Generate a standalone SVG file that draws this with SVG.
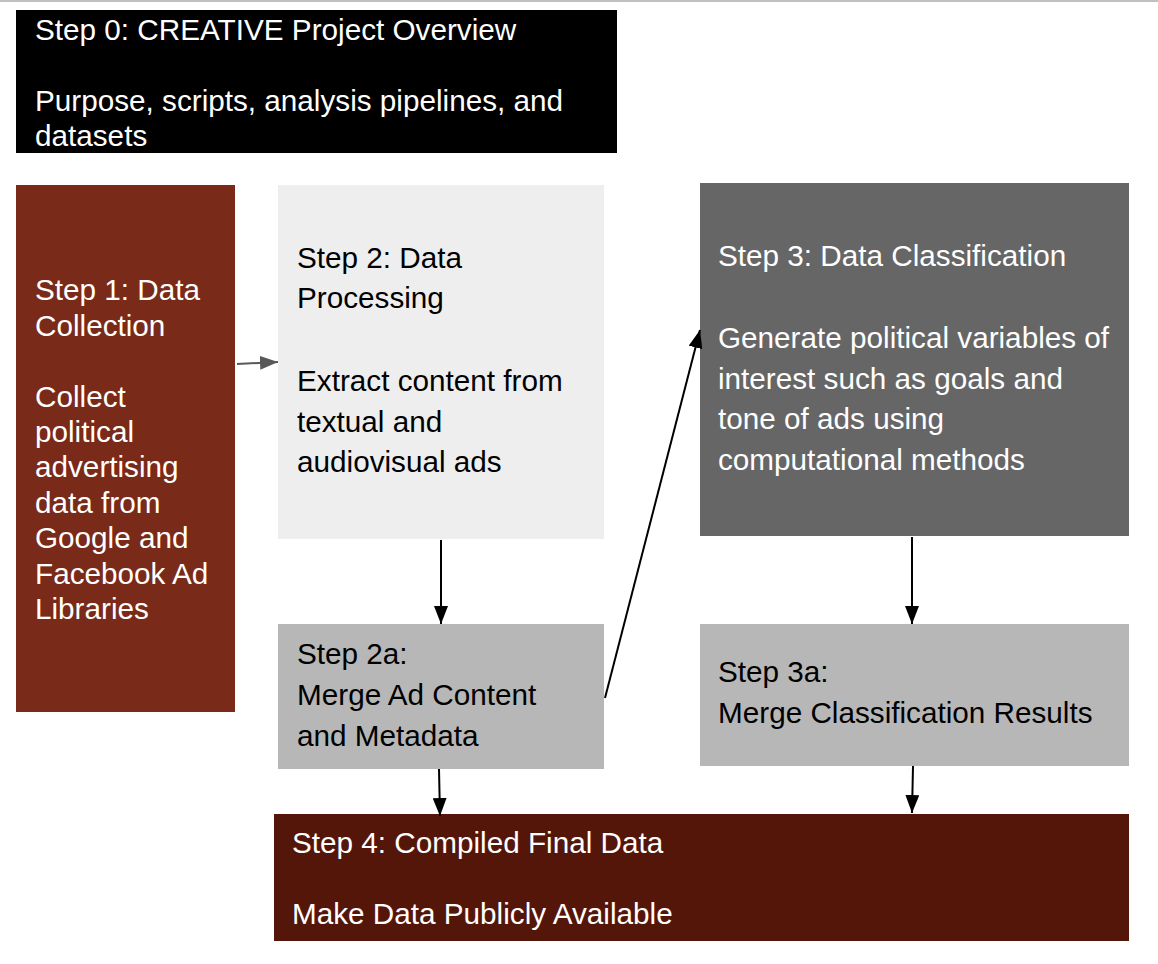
<svg xmlns="http://www.w3.org/2000/svg" width="1158" height="964" viewBox="0 0 1158 964">
<defs>
<style>
text{font-family:"Liberation Sans",Arial,sans-serif;font-size:29.7px}
.w{fill:#ffffff}
.k{fill:#000000}
.c{stroke:#000;stroke-width:2;fill:none}
</style>
<marker id="ah" viewBox="0 0 18 14" refX="18" refY="7" markerWidth="9" markerHeight="7" orient="auto" markerUnits="strokeWidth"><path d="M0,0L18,7L0,14z" fill="#000"/></marker>
<marker id="ahg" viewBox="0 0 18 14" refX="18" refY="7" markerWidth="9" markerHeight="7" orient="auto" markerUnits="strokeWidth"><path d="M0,0L18,7L0,14z" fill="#595959"/></marker>
</defs>
<rect x="0" y="0" width="1158" height="964" fill="#fff"/>
<rect x="0" y="0" width="1158" height="2" fill="#c0c0c0"/>
<g id="step0">
<rect x="16" y="10" width="601" height="143" fill="#000"/>
<text class="w" x="35" y="40">Step 0: CREATIVE Project Overview</text>
<text class="w" x="35" y="111">Purpose, scripts, analysis pipelines, and</text>
<text class="w" x="35" y="146">datasets</text>
</g>
<g id="step1">
<rect x="16" y="185" width="219" height="527" fill="#7a2a18"/>
<text class="w" x="35" y="300">Step 1: Data</text>
<text class="w" x="35" y="336">Collection</text>
<text class="w" x="35" y="407">Collect</text>
<text class="w" x="35" y="442">political</text>
<text class="w" x="35" y="477">advertising</text>
<text class="w" x="35" y="513">data from</text>
<text class="w" x="35" y="548">Google and</text>
<text class="w" x="35" y="584">Facebook Ad</text>
<text class="w" x="35" y="619">Libraries</text>
</g>
<g id="step2">
<rect x="278" y="185" width="326" height="354" fill="#eeeeee"/>
<text class="k" x="297" y="268">Step 2: Data</text>
<text class="k" x="297" y="308">Processing</text>
<text class="k" x="297" y="391">Extract content from</text>
<text class="k" x="297" y="432">textual and</text>
<text class="k" x="297" y="472">audiovisual ads</text>
</g>
<g id="step3">
<rect x="700" y="183" width="429" height="353" fill="#666666"/>
<text class="w" x="718" y="266">Step 3: Data Classification</text>
<text class="w" x="718" y="348">Generate political variables of</text>
<text class="w" x="718" y="389">interest such as goals and</text>
<text class="w" x="718" y="429">tone of ads using</text>
<text class="w" x="718" y="470">computational methods</text>
</g>
<g id="step2a">
<rect x="278" y="624" width="326" height="145" fill="#b7b7b7"/>
<text class="k" x="297" y="664">Step 2a:</text>
<text class="k" x="297" y="705">Merge Ad Content</text>
<text class="k" x="297" y="746">and Metadata</text>
</g>
<g id="step3a">
<rect x="700" y="624" width="429" height="142" fill="#b7b7b7"/>
<text class="k" x="718" y="682">Step 3a:</text>
<text class="k" x="718" y="723">Merge Classification Results</text>
</g>
<g id="step4">
<rect x="274" y="814" width="855" height="127" fill="#55160a"/>
<text class="w" x="292" y="853">Step 4: Compiled Final Data</text>
<text class="w" x="292" y="924">Make Data Publicly Available</text>
</g>
<g id="connectors">
<line x1="237" y1="364" x2="278" y2="362" stroke="#595959" stroke-width="2" marker-end="url(#ahg)"/>
<line class="c" x1="441" y1="540" x2="441" y2="624" marker-end="url(#ah)"/>
<line class="c" x1="605" y1="698" x2="700" y2="330" marker-end="url(#ah)"/>
<line class="c" x1="912" y1="537" x2="912" y2="624" marker-end="url(#ah)"/>
<line class="c" x1="439" y1="769" x2="440" y2="816" marker-end="url(#ah)"/>
<line class="c" x1="913" y1="766" x2="912" y2="813" marker-end="url(#ah)"/>
</g>
</svg>
